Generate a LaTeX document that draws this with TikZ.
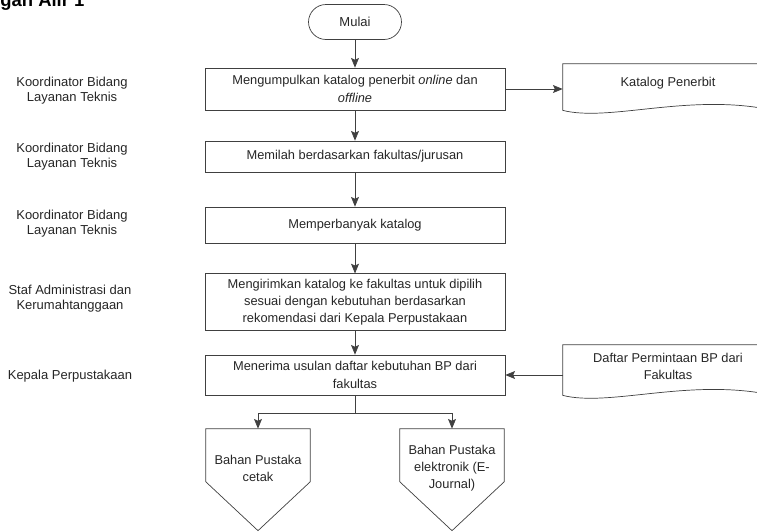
\documentclass[tikz,border=0pt]{standalone}
\usepackage{fontspec}
\setmainfont{Liberation Sans}
\usetikzlibrary{positioning,arrows.meta}
\def\boxw{6cm}
\def\docw{4.2cm}
\tikzset{
thin, % all lines thin
>={Stealth[length=5.5pt,width=4.5pt,inset=1pt]}, % all arrows with stealth tip
my line/.style={draw=black!75},
my node/.style={inner sep=1mm,text=black!85,align=center},
my role/.style={my node,font=\fontsize{7.4}{8.6}\selectfont},
my step/.style={my node,my line,rectangle,minimum width=\boxw,
  font=\fontsize{7.3}{9.8}\selectfont},
my start/.style={my node,my line,rectangle,rounded corners=0.35cm,
  minimum width=1.86cm,minimum height=0.7cm,font=\fontsize{7.4}{9}\selectfont},
my doc/.style={my node,minimum width=\docw,minimum height=0.76cm,
  font=\fontsize{7.3}{9.6}\selectfont},
my offpage/.style={my node,minimum width=2.08cm,minimum height=1.56cm,
  font=\fontsize{7.3}{9.6}\selectfont},
}
% outline of a document symbol round node #1
\newcommand\docoutline[1]{%
  \draw[my line] (#1.north west) -- (#1.north east) -- ([shift={(0,8)}]#1.south east)
    .. controls +(-83,-18) and +(47,12) .. ([shift={(0,8)}]#1.south west) -- cycle;}
% outline of an off-page connector round node #1
\newcommand\offpageoutline[1]{%
  \draw[my line] (#1.north west) -- (#1.north east) -- ([shift={(0,53)}]#1.north east)
    -- ([shift={(0,102)}]#1.north) -- ([shift={(0,53)}]#1.north west) -- cycle;}

\begin{document}
\begin{tikzpicture}[x=0.02cm,y=-0.02cm]
\useasboundingbox (0,0) rectangle (757,531);
\clip (0,0) rectangle (757,531);

\node[anchor=base west,inner sep=0pt,font=\fontsize{10.5}{12}\bfseries\selectfont] (title) at (0,6) {gan Alir 1};

% flow
\node[my start] (mulai) at (355,22) {Mulai};
\node[my step,minimum height=0.84cm] (box1) at (355,89)
  {Mengumpulkan katalog penerbit \textit{online} dan\\ \textit{offline}};
\node[my step,minimum height=0.62cm] (box2) at (355,156.5) {Memilah berdasarkan fakultas/jurusan};
\node[my step,minimum height=0.72cm] (box3) at (355,225) {Memperbanyak katalog};
\node[my step,minimum height=1.1cm] (box4) at (355,302)
  {Mengirimkan katalog ke fakultas untuk dipilih\\ sesuai dengan kebutuhan berdasarkan\\ rekomendasi dari Kepala Perpustakaan};
\node[my step,minimum height=0.8cm] (box5) at (355,375)
  {Menerima usulan daftar kebutuhan BP dari\\ fakultas};

% documents
\node[my doc] (katalog) at (668,83) {Katalog Penerbit};
\docoutline{katalog}
\node[my doc,minimum height=0.84cm] (daftar) at (668,366) {Daftar Permintaan BP dari\\ Fakultas};
\docoutline{daftar}

% off-page connectors
\node[my offpage] (cetak) at (258,468) {Bahan Pustaka\\ cetak};
\offpageoutline{cetak}
\node[my offpage] (ejournal) at (452,468) {Bahan Pustaka\\ elektronik (E-\\ Journal)};
\offpageoutline{ejournal}

% roles
\node[my role] (role1) at (72,91) {Koordinator Bidang\\ Layanan Teknis};
\node[my role] (role2) at (72,157) {Koordinator Bidang\\ Layanan Teknis};
\node[my role] (role3) at (72,224) {Koordinator Bidang\\ Layanan Teknis};
\node[my role] (role4) at (70,299) {Staf Administrasi dan\\ Kerumahtanggaan};
\node[my role] (role5) at (70,376) {Kepala Perpustakaan};

% connectors
\foreach \a/\b in {mulai/box1,box1/box2,box2/box3,box3/box4,box4/box5}
  \draw[my line,->] (\a) -- (\b);
\draw[my line,->] (box1.east) -- (box1.east -| katalog.west);
\draw[my line,->] (daftar.west |- box5.east) -- (box5.east);
\draw[my line,->] (box5.south) -- ++(0,18) -| (cetak.north);
\draw[my line,->] (box5.south) -- ++(0,18) -| (ejournal.north);
\end{tikzpicture}
\end{document}
